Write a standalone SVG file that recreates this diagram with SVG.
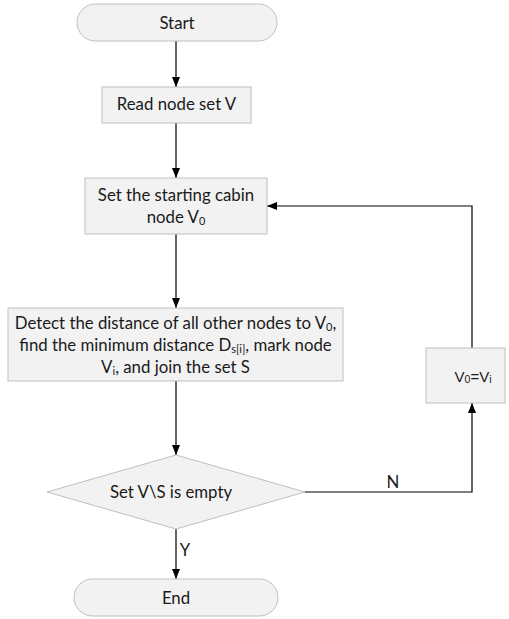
<svg xmlns="http://www.w3.org/2000/svg" width="509" height="619" viewBox="0 0 509 619">
<style>
.box{fill:#f2f2f2;stroke:#bfbfbf;stroke-width:1}
.t{font-family:Lato,"Open Sans","DejaVu Sans",sans-serif;font-size:16.8px;fill:#1a1a1a;text-anchor:middle}
.a{font-family:"Liberation Sans",Arial,sans-serif;font-size:15px;fill:#1a1a1a;text-anchor:middle}
.sub{font-size:11px}
.sa{font-size:10.5px}
.line{fill:none;stroke:#000;stroke-width:1.2}
</style>
<defs>
<marker id="arr" markerUnits="userSpaceOnUse" markerWidth="10" markerHeight="8" refX="10" refY="4" orient="auto">
<path d="M0,0 L10,4 L0,8 z" fill="#000"/>
</marker>
</defs>
<rect width="509" height="619" fill="#fff"/>
<g id="connectors">
<line class="line" x1="176" y1="41" x2="176" y2="87" marker-end="url(#arr)"/>
<line class="line" x1="176" y1="123" x2="176" y2="178" marker-end="url(#arr)"/>
<line class="line" x1="176" y1="234" x2="176" y2="308" marker-end="url(#arr)"/>
<line class="line" x1="176" y1="381" x2="176" y2="455" marker-end="url(#arr)"/>
<line class="line" x1="176" y1="529" x2="176" y2="579" marker-end="url(#arr)"/>
<polyline class="line" points="305,492 472,492 472,403" marker-end="url(#arr)"/>
<polyline class="line" points="472,348 472,206 267,206" marker-end="url(#arr)"/>
<text class="t" x="185" y="556">Y</text>
<text class="t" x="393" y="488">N</text>
</g>
<g id="start">
<rect class="box" x="77" y="4" width="200" height="37" rx="18.5"/>
<text class="t" x="177" y="28.5">Start</text>
</g>
<g id="read">
<rect class="box" x="102" y="87" width="149" height="36"/>
<text class="t" x="176.5" y="110">Read node set V</text>
</g>
<g id="setstart">
<rect class="box" x="85" y="178" width="182" height="56"/>
<text class="t" x="176" y="201">Set the starting cabin</text>
<text class="t" x="176" y="223">node V<tspan class="sub" dy="1.5">0</tspan></text>
</g>
<g id="detect">
<rect class="box" x="8" y="308" width="335" height="73"/>
<text class="t" x="175.5" y="329">Detect the distance of all other nodes to V<tspan class="sub" dy="1.5">0</tspan><tspan dy="-1.5">,</tspan></text>
<text class="t" x="175.5" y="351">find the minimum distance D<tspan class="sub" dy="1.5">s[i]</tspan><tspan dy="-1.5">, mark node</tspan></text>
<text class="t" x="175.5" y="373">V<tspan class="sub" dy="1.5">i</tspan><tspan dy="-1.5">, and join the set S</tspan></text>
</g>
<g id="update">
<rect class="box" x="426" y="348" width="79" height="55"/>
<text class="a" x="473" y="382">V<tspan class="sa" dy="1">0</tspan><tspan dy="-1">=V</tspan><tspan class="sa" dy="1">i</tspan></text>
</g>
<g id="decision">
<polygon class="box" points="176,455 305,492 176,529 47,492"/>
<text class="t" x="171" y="497.5">Set V\S is empty</text>
</g>
<g id="end">
<rect class="box" x="74" y="579" width="204" height="37" rx="18.5"/>
<text class="t" x="176" y="603.5">End</text>
</g>
</svg>
